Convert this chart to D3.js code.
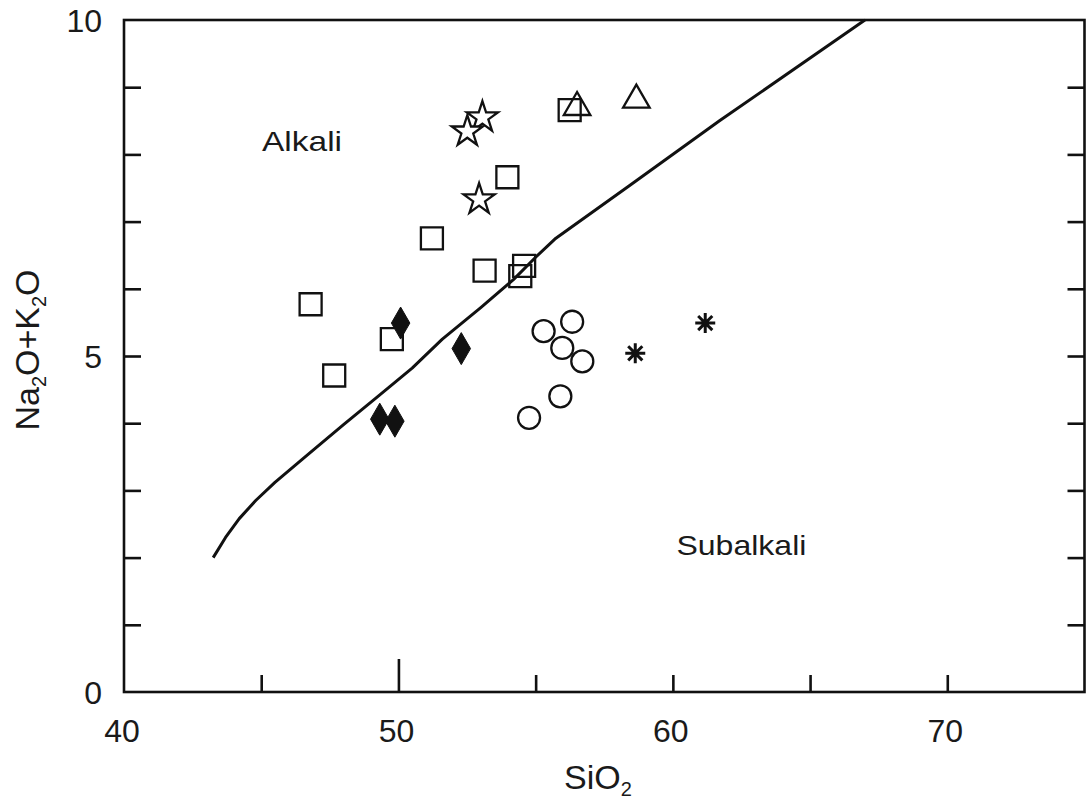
<!DOCTYPE html>
<html>
<head>
<meta charset="utf-8">
<script src="https://cdn.jsdelivr.net/npm/d3@7"></script>
<style>
  html, body { margin: 0; padding: 0; background: #fff; }
  svg { display: block; }
  text { font-family: "Liberation Sans", Arial, sans-serif; fill: #1a1a1a; }
</style>
</head>
<body>
<svg id="chart" width="1087" height="804"></svg>
<script>
// ---- data ----
const xTickMarks = [45, 50, 55, 60, 65, 70];
const xTickLabels = [40, 50, 60, 70];
const yTickMarks = [1, 2, 3, 4, 5, 6, 7, 8, 9];
const yTickLabels = [0, 5, 10];

// Alkali / Subalkali boundary (SiO2, Na2O+K2O)
const boundarySiO2 = [43.25, 43.7, 44.2, 44.8, 45.5, 46.6, 48.0, 49.2, 50.5, 51.6, 53.0, 54.2, 55.0, 55.7, 58.4, 61.7, 67.0];
const boundaryAlk  = [2.0,   2.3,  2.58, 2.85, 3.12, 3.5,  3.98, 4.38, 4.82, 5.25, 5.72, 6.14, 6.47, 6.74, 7.53, 8.5,  10.0];

const squareSiO2 = [56.24, 53.97, 51.22, 53.14, 54.58, 54.44, 46.80, 49.76, 47.66];
const squareAlk  = [8.66,  7.66,  6.75,  6.27,  6.34,  6.19,  5.77,  5.25,  4.71];

const circleSiO2 = [55.29, 56.33, 55.97, 56.70, 55.90, 54.76];
const circleAlk  = [5.37,  5.51,  5.12,  4.92,  4.40,  4.08];

const asteriskSiO2 = [58.63, 61.18];
const asteriskAlk  = [5.04,  5.49];

const diamondSiO2 = [50.08, 52.29, 49.32, 49.87];
const diamondAlk  = [5.49,  5.11,  4.06,  4.03];

const starSiO2 = [53.06, 52.51, 52.94];
const starAlk  = [8.55,  8.34,  7.33];

const triangleSiO2 = [56.51, 58.67];
const triangleAlk  = [8.70,  8.81];

const fieldLabels = ["Alkali", "Subalkali"];
const fieldSiO2 = [45.03, 60.13];
const fieldAlk = [8.05, 2.04];

// ---- layout ----
const svg = d3.select("#chart");
const x = d3.scaleLinear().domain([40, 75]).range([124, 1084.5]);
const y = d3.scaleLinear().domain([0, 10]).range([692, 20]);
const ink = "#111";

// frame
svg.append("rect")
  .attr("x", x(40)).attr("y", y(10))
  .attr("width", x(75) - x(40)).attr("height", y(0) - y(10))
  .attr("fill", "none").attr("stroke", ink).attr("stroke-width", 2.6);

// bottom ticks (inward)
const gb = svg.append("g").attr("transform", `translate(0,${y(0)})`)
  .call(d3.axisBottom(x).tickValues(xTickMarks).tickSize(-17).tickFormat(""));
gb.select(".domain").remove();
gb.selectAll(".tick line").attr("stroke", ink).attr("stroke-width", 2.6)
  .attr("y2", d => d === 50 ? -33 : -17);

// left ticks
const gl = svg.append("g").attr("transform", `translate(${x(40)},0)`)
  .call(d3.axisLeft(y).tickValues(yTickMarks).tickSize(-17).tickFormat(""));
gl.select(".domain").remove();
gl.selectAll(".tick line").attr("stroke", ink).attr("stroke-width", 2.6);

// right ticks
const gr = svg.append("g").attr("transform", `translate(${x(75)},0)`)
  .call(d3.axisRight(y).tickValues(yTickMarks).tickSize(-17).tickFormat(""));
gr.select(".domain").remove();
gr.selectAll(".tick line").attr("stroke", ink).attr("stroke-width", 2.6);

// tick labels
svg.append("g").selectAll("text").data(xTickLabels).join("text")
  .attr("x", d => x(d) - 2).attr("y", 742)
  .attr("text-anchor", "middle").attr("font-size", 32)
  .text(d => d);
svg.append("g").selectAll("text").data(yTickLabels).join("text")
  .attr("x", 102).attr("y", d => y(d) + 12)
  .attr("text-anchor", "end").attr("font-size", 32)
  .text(d => d);

// axis titles
const xt = svg.append("text").attr("x", 598).attr("y", 789)
  .attr("text-anchor", "middle").attr("font-size", 34);
xt.append("tspan").text("SiO");
xt.append("tspan").attr("font-size", 20).attr("dy", 7).text("2");

const yt = svg.append("text").attr("transform", "translate(39,350) rotate(-90)")
  .attr("text-anchor", "middle").attr("font-size", 34);
yt.append("tspan").text("Na");
yt.append("tspan").attr("font-size", 20).attr("dy", 7).text("2");
yt.append("tspan").attr("dy", -7).text("O+K");
yt.append("tspan").attr("font-size", 20).attr("dy", 7).text("2");
yt.append("tspan").attr("dy", -7).text("O");

// field labels
const fieldWidths = [80, 130];
svg.append("g").selectAll("text").data(fieldLabels).join("text")
  .attr("x", (d, i) => x(fieldSiO2[i])).attr("y", (d, i) => y(fieldAlk[i]))
  .attr("font-size", 28)
  .attr("textLength", (d, i) => fieldWidths[i])
  .attr("lengthAdjust", "spacingAndGlyphs")
  .text(d => d);

// boundary line
const bpts = boundarySiO2.map((s, i) => [s, boundaryAlk[i]]);
svg.append("path")
  .attr("d", d3.line().x(d => x(d[0])).y(d => y(d[1])).curve(d3.curveLinear)(bpts))
  .attr("fill", "none").attr("stroke", ink).attr("stroke-width", 3)
  .attr("stroke-linejoin", "round");

// markers
function pts(sx, sy) { return sx.map((s, i) => [s, sy[i]]); }
function place(d) { return `translate(${x(d[0])},${y(d[1])})`; }

const asteriskType = {
  draw(ctx, size) {
    const r = Math.sqrt(size) / 2;
    for (let k = 0; k < 4; k++) {
      const a = k * Math.PI / 4;
      ctx.moveTo(r * Math.cos(a), r * Math.sin(a));
      ctx.lineTo(-r * Math.cos(a), -r * Math.sin(a));
    }
  }
};

const layer = svg.append("g");

layer.selectAll(".sq").data(pts(squareSiO2, squareAlk)).join("path")
  .attr("d", d3.symbol(d3.symbolSquare, 484)())
  .attr("transform", place)
  .attr("fill", "none").attr("stroke", ink).attr("stroke-width", 2.3);

layer.selectAll(".ci").data(pts(circleSiO2, circleAlk)).join("path")
  .attr("d", d3.symbol(d3.symbolCircle, 380)())
  .attr("transform", place)
  .attr("fill", "none").attr("stroke", ink).attr("stroke-width", 2.3);

layer.selectAll(".tr").data(pts(triangleSiO2, triangleAlk)).join("path")
  .attr("d", d3.symbol(d3.symbolTriangle, 305)())
  .attr("transform", place)
  .attr("fill", "none").attr("stroke", ink).attr("stroke-width", 2.3);

layer.selectAll(".st").data(pts(starSiO2, starAlk)).join("path")
  .attr("d", d3.symbol(d3.symbolStar, 300)())
  .attr("transform", place)
  .attr("fill", "#fff").attr("stroke", ink).attr("stroke-width", 2.3);

layer.selectAll(".di").data(pts(diamondSiO2, diamondAlk)).join("path")
  .attr("d", d3.symbol(d3.symbolDiamond, 296)())
  .attr("transform", place)
  .attr("fill", ink).attr("stroke", ink).attr("stroke-width", 1);

layer.selectAll(".as").data(pts(asteriskSiO2, asteriskAlk)).join("path")
  .attr("d", d3.symbol(asteriskType, 400)())
  .attr("transform", place)
  .attr("fill", "none").attr("stroke", ink).attr("stroke-width", 3);
</script>
</body>
</html>
